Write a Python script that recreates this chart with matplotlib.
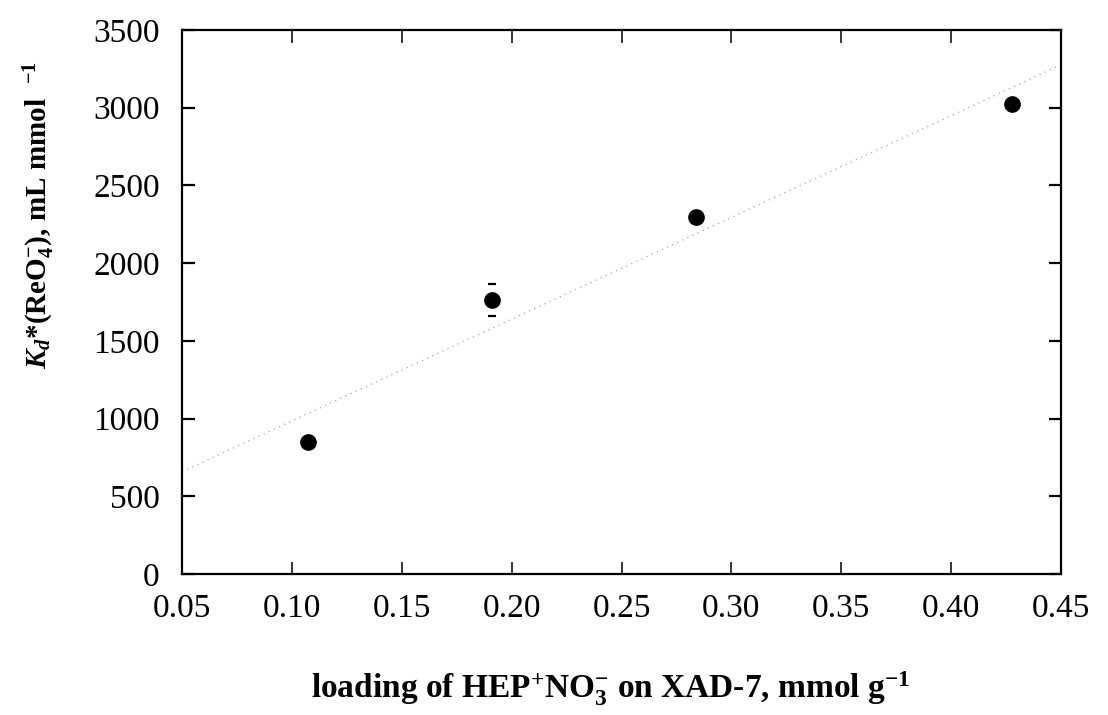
import numpy as np
import matplotlib.pyplot as plt

# Kd*(ReO4-) vs loading of HEP+NO3- on XAD-7
loading = np.array([0.1075, 0.1912, 0.2838, 0.4278])     # mmol/g
kd = np.array([850.0, 1763.0, 2300.0, 3022.0])            # mL/mmol
kd_err = np.array([0.0, 103.0, 0.0, 0.0])

x_ticks = [0.05, 0.10, 0.15, 0.20, 0.25, 0.30, 0.35, 0.40, 0.45]
y_ticks = [0, 500, 1000, 1500, 2000, 2500, 3000, 3500]

plt.rcParams['font.family'] = 'Liberation Serif'
plt.rcParams['mathtext.fontset'] = 'custom'
plt.rcParams['mathtext.rm'] = 'Liberation Serif:bold'
plt.rcParams['mathtext.it'] = 'Liberation Serif:bold:italic'
plt.rcParams['mathtext.bf'] = 'Liberation Serif:bold'

# linear fit through the data
pendiente, ordenada = np.polyfit(loading, kd, 1)
x_fit = np.array([0.05, 0.45])
y_fit = pendiente * x_fit + ordenada

fig = plt.figure(figsize=(11.08, 7.15), dpi=100)
ax = fig.add_axes([182 / 1108, 1 - 574 / 715, 879 / 1108, 544 / 715])

ax.plot(x_fit, y_fit, color='#a8a8a8', linewidth=0.9, linestyle=(0, (1, 3.5)))
ax.errorbar(loading, kd, yerr=kd_err, fmt='o', color='black', markersize=11,
            elinewidth=0, capsize=3, capthick=1.6, ecolor='black')

ax.set_xlim(0.05, 0.45)
ax.set_ylim(0, 3500)
ax.set_xticks(x_ticks)
ax.set_xticklabels([f"{v:.2f}" for v in x_ticks])
ax.set_yticks(y_ticks)

for s in ax.spines.values():
    s.set_linewidth(1.6)

ax.tick_params(axis='x', direction='in', top=True, bottom=True, length=9,
               width=1.1, labelsize=24, pad=14)
ax.tick_params(axis='y', direction='in', left=True, right=True, length=9,
               width=1.6, labelsize=24, pad=16)

ax.set_xlabel(r"loading of HEP$^{+}$NO$_{3}^{-}$ on XAD-7, mmol g$^{-1}$",
              fontsize=24, fontweight='bold')
ax.xaxis.set_label_coords(0.487, -0.175)

ax.set_ylabel(r"$K_{d}$*(ReO$_{4}^{-}$), mL mmol  $^{-1}$",
              fontsize=21, fontweight='bold')
ax.yaxis.set_label_coords(-0.142, 0.66)

fig.savefig('out.png', dpi=100)
